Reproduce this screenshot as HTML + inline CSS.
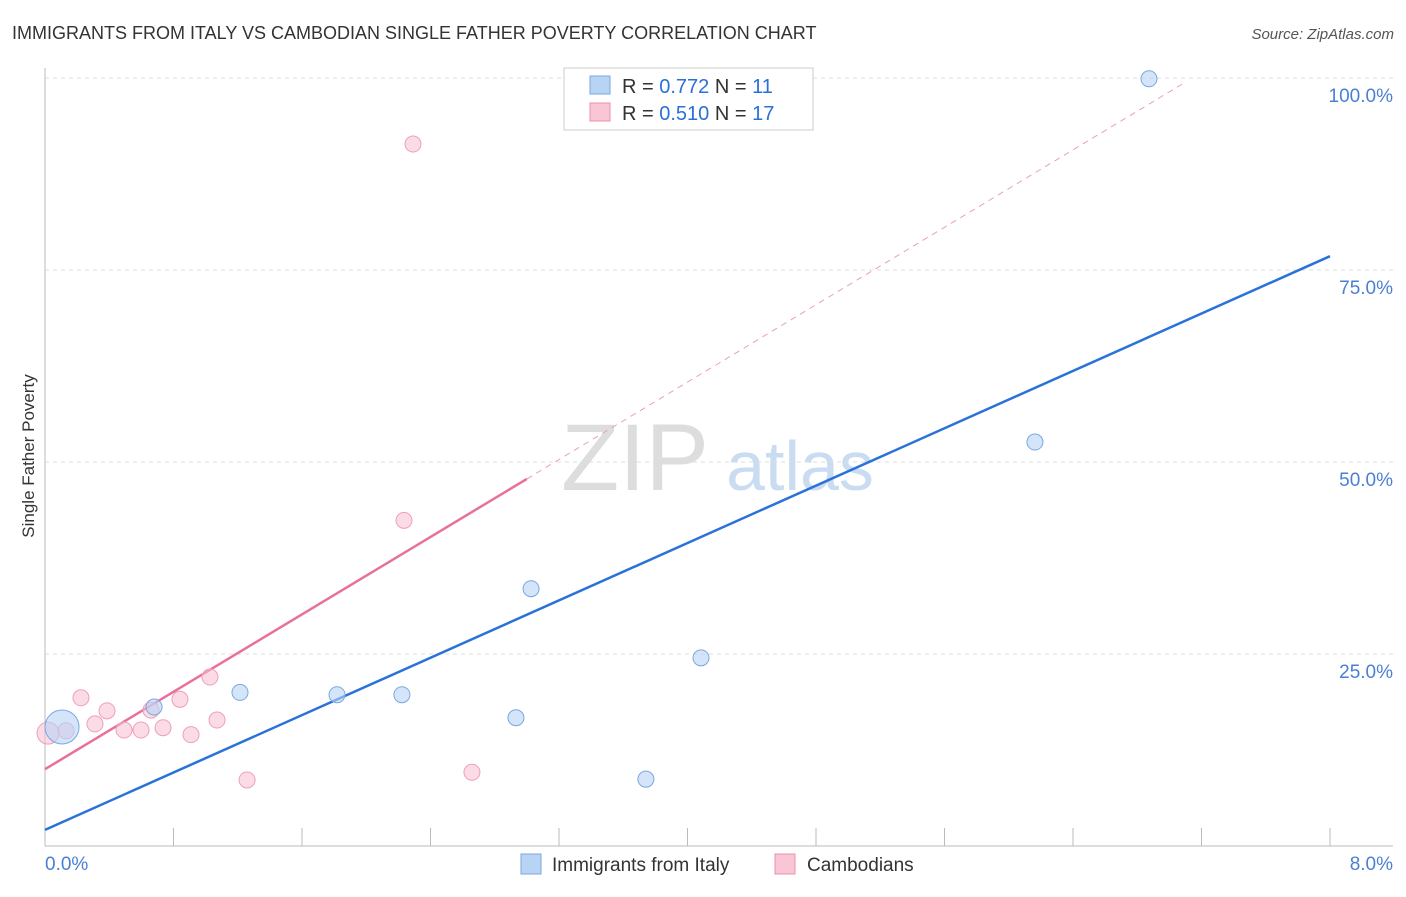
<!DOCTYPE html>
<html><head><meta charset="utf-8"><style>
body{margin:0;background:#fff;font-family:"Liberation Sans",sans-serif;}
svg text{font-family:"Liberation Sans",sans-serif;}
</style></head><body>
<svg id="chart" width="1406" height="892" xmlns="http://www.w3.org/2000/svg">
<text x="12" y="39" font-size="18" fill="#333">IMMIGRANTS FROM ITALY VS CAMBODIAN SINGLE FATHER POVERTY CORRELATION CHART</text>
<text x="1394" y="39" font-size="15" fill="#555" text-anchor="end" font-style="italic">Source: ZipAtlas.com</text>
<text transform="translate(34,456) rotate(-90)" font-size="17" fill="#333" text-anchor="middle">Single Father Poverty</text>
<g><text x="635" y="490" font-size="95" fill="#ddd" text-anchor="middle" font-family="Liberation Serif">ZIP</text><text x="800" y="490" font-size="70" fill="#c9dcf2" text-anchor="middle">atlas</text></g>
<g id="grid"></g><g id="axes"></g><g id="lines"></g><g id="points"></g>
<g>
<rect x="564" y="68" width="249" height="62" fill="#fff" stroke="#ccc"/>
<rect x="590" y="76" width="20" height="18" fill="#b8d4f5" stroke="#7aa7e0"/>
<text x="622" y="93" font-size="20" fill="#333">R = <tspan fill="#2a6fdb">0.772</tspan>   N = <tspan fill="#2a6fdb">11</tspan></text>
<rect x="590" y="103" width="20" height="18" fill="#f9c6d5" stroke="#ec90ac"/>
<text x="622" y="120" font-size="20" fill="#333">R = <tspan fill="#2a6fdb">0.510</tspan>   N = <tspan fill="#2a6fdb">17</tspan></text>
</g>
<g>
<rect x="521" y="854" width="20" height="20" fill="#b8d4f5" stroke="#7aa7e0"/>
<text x="552" y="871" font-size="19" fill="#333">Immigrants from Italy</text>
<rect x="775" y="854" width="20" height="20" fill="#f9c6d5" stroke="#ec90ac"/>
<text x="807" y="871" font-size="19" fill="#333">Cambodians</text>
</g>
</svg>
<script>
const blueX=[0.106,0.679,1.214,1.818,2.222,2.932,3.026,3.741,4.084,6.163,6.873];
const blueY=[15.5,18.1,20.0,19.7,19.7,16.7,33.5,8.7,24.5,52.6,99.9];
const pinkX=[0.019,0.131,0.224,0.311,0.386,0.492,0.598,0.660,0.735,0.840,0.909,1.027,1.071,1.258,2.235,2.291,2.658];
const pinkY=[14.7,15.0,19.3,15.9,17.6,15.1,15.1,17.7,15.4,19.1,14.5,22.0,16.4,8.6,42.4,91.4,9.6];
const yTicks=[25,50,75,100];
const yTickLabels=["25.0%","50.0%","75.0%","100.0%"];
const blueFit=[2.1,76.8];
const pinkFit=[10.0,47.8,3.0,7.1];
const NS="http://www.w3.org/2000/svg";
const sx=v=>45+v/8*1285, sy=v=>846-v/100*768;
function mk(t,a,p){const e=document.createElementNS(NS,t);for(const k in a)e.setAttribute(k,a[k]);p.appendChild(e);return e;}
const grid=document.getElementById('grid'),axes=document.getElementById('axes'),lines=document.getElementById('lines'),pts=document.getElementById('points');
yTicks.forEach((t,i)=>{
 const l=mk('line',{x1:45,x2:1393,y1:sy(t),y2:sy(t),stroke:'#ddd','stroke-dasharray':'4,4'},grid);
 
 
 const tx=mk('text',{x:1393,y:sy(t)+24,'font-size':19,fill:'#4a7fd4','text-anchor':'end'},axes);
 tx.textContent=yTickLabels[i];
 
 
});
const ya=mk('line',{x1:45,x2:45,y1:68,y2:846,stroke:'#bbb'},axes);


const xa=mk('line',{x1:45,x2:1393,y1:846,y2:846,stroke:'#bbb'},axes);


for(let i=1;i<=10;i++){const t=mk('line',{x1:sx(i*0.8),x2:sx(i*0.8),y1:828,y2:846,stroke:'#bbb'},axes);
 
 }
[[0,"0.0%",45,'start'],[8,"8.0%",1393,'end']].forEach(d=>{const t=mk('text',{x:d[2],y:870,'font-size':19,fill:'#4a7fd4','text-anchor':d[3]},axes);t.textContent=d[1];
 
 });
const bl=mk('line',{x1:sx(0),y1:sy(blueFit[0]),x2:sx(8),y2:sy(blueFit[1]),stroke:'#2a72d8','stroke-width':2.5},lines);


const slope=(pinkFit[1]-pinkFit[0])/pinkFit[2];
const pl=mk('line',{x1:sx(0),y1:sy(pinkFit[0]),x2:sx(pinkFit[2]),y2:sy(pinkFit[1]),stroke:'#e8709a','stroke-width':2.5},lines);


const pd=mk('line',{x1:sx(pinkFit[2]),y1:sy(pinkFit[1]),x2:sx(pinkFit[3]),y2:sy(pinkFit[0]+slope*pinkFit[3]),stroke:'#e8a0b8','stroke-width':1,'stroke-dasharray':'6,5'},lines);


pinkX.forEach((x,i)=>{const c=mk('circle',{cx:sx(x),cy:sy(pinkY[i]),r:i==0?11:8,fill:'rgba(248,190,208,0.55)',stroke:'#eea0b8','stroke-width':1},pts);
 
 });
blueX.forEach((x,i)=>{const c=mk('circle',{cx:sx(x),cy:sy(blueY[i]),r:i==0?17:8,fill:'rgba(184,212,245,0.6)',stroke:'#7aa7e0','stroke-width':1},pts);
 
 });
</script>
</body></html>
